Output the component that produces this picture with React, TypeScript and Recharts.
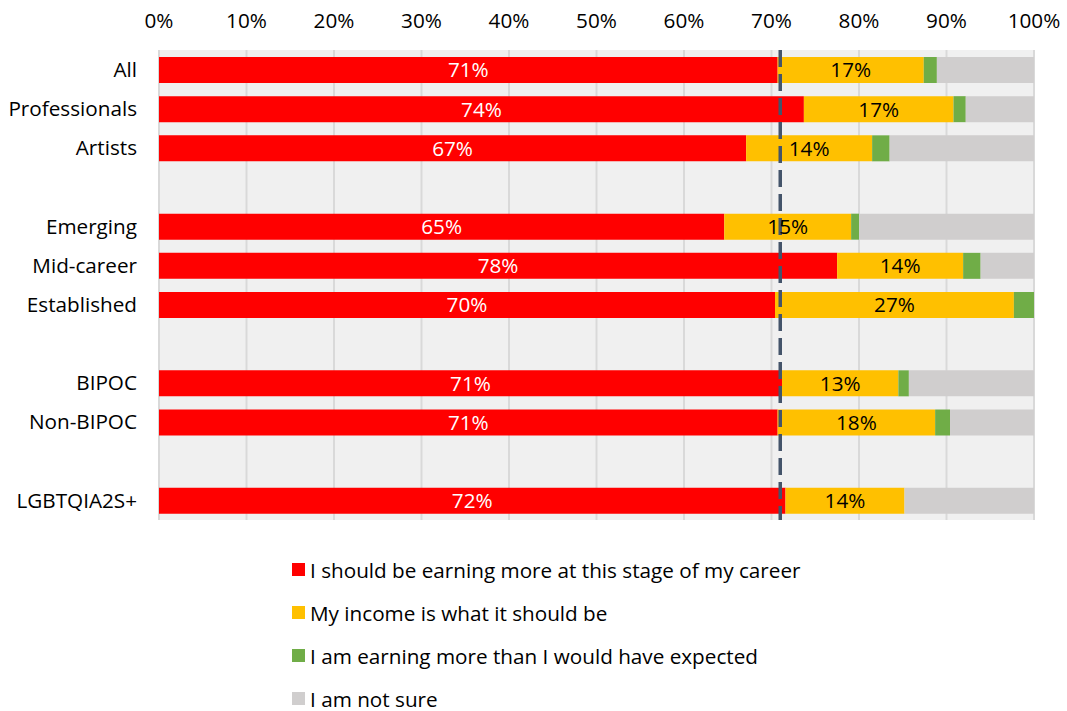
import React from "react";
import {
  BarChart,
  Bar,
  XAxis,
  YAxis,
  CartesianGrid,
  ReferenceLine,
  LabelList,
} from "recharts";

const categories = [
  "All",
  "Professionals",
  "Artists",
  "",
  "Emerging",
  "Mid-career",
  "Established",
  "",
  "BIPOC",
  "Non-BIPOC",
  "",
  "LGBTQIA2S+",
];
const shouldEarnMore = [70.7, 73.7, 67.1, null, 64.6, 77.5, 70.4, null, 71.2, 70.7, null, 71.6];
const incomeAsShould = [16.7, 17.1, 14.4, null, 14.5, 14.4, 27.3, null, 13.3, 18.0, null, 13.6];
const earningMoreThanExpected = [1.5, 1.4, 2.0, null, 0.9, 2.0, 2.3, null, 1.2, 1.7, null, 0];
const notSure = [11.1, 7.8, 16.5, null, 20.0, 6.1, 0, null, 14.3, 9.6, null, 14.8];
const xTicks = [0, 10, 20, 30, 40, 50, 60, 70, 80, 90, 100];
const averageLine = 71;

const seriesNames = [
  "I should be earning more at this stage of my career",
  "My income is what it should be",
  "I am earning more than I would have expected",
  "I am not sure",
];
const seriesKeys = ["s0", "s1", "s2", "s3"];
const seriesColors = ["#FF0000", "#FFC000", "#70AD47", "#D0CECE"];

const data = categories.map((c, i) => ({
  key: String(i),
  s0: shouldEarnMore[i],
  s1: incomeAsShould[i],
  s2: earningMoreThanExpected[i],
  s3: notSure[i],
}));

const FONT = "'Open Sans', sans-serif";
const FS = 20.7;

const fmtLabel = (v: any) =>
  v === null || v === undefined || v === 0 ? "" : `${Math.round(v)}%`;

export default function App() {
  return (
    <div
      style={{
        position: "absolute",
        left: 0,
        top: 0,
        width: 1067,
        height: 711,
        background: "#fff",
        fontFamily: FONT,
        overflow: "hidden",
      }}
    >
      <BarChart
        width={1067}
        height={711}
        data={data}
        layout="vertical"
        margin={{ top: 0, right: 33, left: 0, bottom: 191 }}
        barSize={26}
      >
        <CartesianGrid
          horizontal={false}
          vertical={true}
          fill="#F0F0F0"
          stroke="#D9D9D9"
          strokeWidth={2}
        />
        <XAxis
          type="number"
          orientation="top"
          domain={[0, 100]}
          ticks={xTicks}
          tickFormatter={(v) => `${v}%`}
          axisLine={false}
          tickLine={false}
          height={50}
          tickMargin={16}
          interval={0}
          tick={{ fill: "#000", fontSize: FS, fontFamily: FONT }}
        />
        <YAxis
          type="category"
          dataKey="key"
          width={159}
          axisLine={false}
          tickLine={false}
          tickMargin={16}
          interval={0}
          tickFormatter={(v) => categories[Number(v)]}
          tick={{ fill: "#000", fontSize: FS, fontFamily: FONT }}
        />
        {seriesKeys.map((k, i) => (
          <Bar
            key={k}
            dataKey={k}
            name={seriesNames[i]}
            stackId="a"
            fill={seriesColors[i]}
            isAnimationActive={false}
          >
            {i < 2 && (
              <LabelList
                dataKey={k}
                position="center"
                formatter={fmtLabel}
                fill={i === 0 ? "#FFFFFF" : "#000000"}
                fontSize={FS}
                fontFamily={FONT}
              />
            )}
          </Bar>
        ))}
        <ReferenceLine
          x={averageLine}
          stroke="#44546A"
          strokeWidth={3.5}
          strokeDasharray="17 7"
        />
      </BarChart>
      <div
        style={{
          position: "absolute",
          left: 292,
          top: 548,
          fontFamily: FONT,
          fontSize: FS,
          lineHeight: "24px",
          color: "#000",
        }}
      >
        {seriesNames.map((n, i) => (
          <div
            key={n}
            style={{ display: "flex", alignItems: "center", height: 43 }}
          >
            <span
              style={{
                display: "inline-block",
                width: 13,
                height: 13,
                background: seriesColors[i],
                marginRight: 5,
              }}
            />
            <span>{n}</span>
          </div>
        ))}
      </div>
    </div>
  );
}
